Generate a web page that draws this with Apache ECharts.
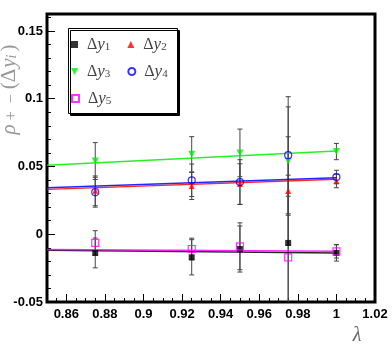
<!DOCTYPE html>
<html><head><meta charset="utf-8">
<script src="https://cdn.jsdelivr.net/npm/echarts@6/dist/echarts.min.js"></script>
<style>html,body{margin:0;padding:0;background:#fff}#c{width:392px;height:349px}</style>
</head><body><div id="c"></div>
<script>
var xs = [0.875, 0.925, 0.95, 0.975, 1.0];
var dy1 = [-0.0138, -0.017, -0.0109, -0.0064, -0.0138];
var err1 = [0.011, 0.013, 0.017, 0.05, 0.006];
var dy2 = [0.032, 0.0356, 0.037, 0.0319, 0.0393];
var err2 = [0.011, 0.010, 0.015, 0.04, 0.005];
var dy3 = [0.054, 0.059, 0.060, 0.054, 0.061];
var err3 = [0.0136, 0.013, 0.0176, 0.04, 0.006];
var dy4 = [0.031, 0.0398, 0.0385, 0.0583, 0.0422];
var err4 = [0.011, 0.012, 0.0165, 0.0432, 0.005];
var dy5 = [-0.0064, -0.0109, -0.0089, -0.017, -0.0126];
var err5 = [0.009, 0.008, 0.0173, 0.045, 0.005];
var fitX = [0.85, 1.0];
var fit1 = [-0.0119, -0.0138];
var fit2 = [0.0331, 0.0405];
var fit3 = [0.0509, 0.0615];
var fit4 = [0.0343, 0.0417];
var fit5 = [-0.0113, -0.0126];
var xTicks = [0.86, 0.88, 0.9, 0.92, 0.94, 0.96, 0.98, 1, 1.02];
var yTicks = [-0.05, 0, 0.05, 0.1, 0.15];
var names = ['Δy1', 'Δy2', 'Δy3', 'Δy4', 'Δy5'];
var colors = ['#000000', '#ff0000', '#00ee00', '#0000ff', '#ff00ff'];

var X_MIN = 0.85, X_MAX = 1.02, Y_MIN = -0.05, Y_MAX = 0.1625;
function range(a, b, step) {
  var out = [];
  for (var i = 0; ; i++) {
    var v = Math.round((a + i * step) * 10000) / 10000;
    if (v > b + 1e-9) break;
    out.push(v);
  }
  return out;
}
var xMinor = range(0.85, 1.02, 0.005);
var yMinor = range(-0.05, 0.16, 0.01);

var dys = [dy1, dy2, dy3, dy4, dy5];
var errs = [err1, err2, err3, err4, err5];
var fits = [fit1, fit2, fit3, fit4, fit5];
var symbols = ['rect', 'triangle', 'path://M0,0L10,0L5,10Z', 'circle', 'rect'];
var filled = [true, true, true, false, false];
var sizes = [6, 6, 7, 7, 7];

var labelFont = "'Liberation Sans',Arial,sans-serif";
var series = [];
for (var s = 0; s < 5; s++) {
  series.push({
    type: 'custom', xAxisIndex: 0, yAxisIndex: 0, clip: true, z: 2,
    data: xs.map(function (x, i) { return [x, dys[s][i] - errs[s][i], dys[s][i] + errs[s][i]]; }),
    renderItem: function (params, api) {
      var lo = api.coord([api.value(0), api.value(1)]);
      var hi = api.coord([api.value(0), api.value(2)]);
      var st = { stroke: '#444', lineWidth: 1 };
      return { type: 'group', children: [
        { type: 'line', shape: { x1: lo[0], y1: lo[1], x2: hi[0], y2: hi[1] }, style: st },
        { type: 'line', shape: { x1: lo[0] - 2.5, y1: lo[1], x2: lo[0] + 2.5, y2: lo[1] }, style: st },
        { type: 'line', shape: { x1: hi[0] - 2.5, y1: hi[1], x2: hi[0] + 2.5, y2: hi[1] }, style: st }
      ] };
    }
  });
}
for (var s = 0; s < 5; s++) {
  series.push({
    type: 'line', xAxisIndex: 0, yAxisIndex: 0, z: 3, symbol: 'none', silent: true,
    data: fitX.map(function (x, i) { return [x, fits[s][i]]; }),
    lineStyle: { color: colors[s], width: 1.5, opacity: 0.85 }
  });
}
for (var s = 0; s < 5; s++) {
  series.push({
    type: 'scatter', name: names[s], xAxisIndex: 0, yAxisIndex: 0, z: 4,
    symbol: symbols[s], symbolSize: sizes[s],
    itemStyle: filled[s] ? { color: colors[s] } : { color: 'rgba(255,255,255,0)', borderColor: colors[s], borderWidth: 1.2 },
    data: xs.map(function (x, i) { return [x, dys[s][i]]; })
  });
}

var legendText = {
  fontFamily: "'Liberation Serif',serif", fontSize: 16, color: '#444', padding: [0, 0, 0, 4],
  rich: {
    d: { fontFamily: "'Liberation Serif',serif", fontSize: 16, color: '#444' },
    y: { fontFamily: "'Liberation Serif',serif", fontStyle: 'italic', fontSize: 17, color: '#444' },
    s: { fontFamily: "'Liberation Serif',serif", fontSize: 11, color: '#444', verticalAlign: 'bottom', padding: [6, 0, 0, 0] }
  }
};
function legendFmt(n) { return '{d|Δ}{y|y}{s|' + n.slice(2) + '}'; }
function mkLegend(data, top) {
  return {
    data: data, left: 71, top: top, orient: 'horizontal', itemWidth: 7, itemHeight: 7, itemGap: 17,
    padding: 0, textStyle: legendText, formatter: legendFmt, selectedMode: false
  };
}
function axisCommon(extra) {
  var o = { type: 'value', axisLine: { show: false, onZero: false }, splitLine: { show: false } };
  for (var k in extra) o[k] = extra[k];
  return o;
}

var option = {
  animation: false,
  grid: { left: 47, right: 17, top: 14, bottom: 47, show: true, borderColor: '#000', borderWidth: 3, backgroundColor: 'transparent' },
  xAxis: [
    axisCommon({ min: X_MIN, max: X_MAX, position: 'bottom',
      axisTick: { inside: true, length: 8, lineStyle: { color: '#000', width: 1 }, customValues: xTicks },
      axisLabel: { customValues: xTicks, margin: 6, color: '#000', fontFamily: labelFont, fontWeight: 'bold', fontSize: 13,
        formatter: function (v) { return String(v); } } }),
    axisCommon({ min: X_MIN, max: X_MAX, position: 'bottom', axisLabel: { show: false },
      axisTick: { inside: true, length: 4, lineStyle: { color: '#000', width: 1 }, customValues: xMinor } })
  ],
  yAxis: [
    axisCommon({ min: Y_MIN, max: Y_MAX, position: 'left',
      axisTick: { inside: true, length: 8, lineStyle: { color: '#000', width: 1 }, customValues: yTicks },
      axisLabel: { customValues: yTicks, margin: 4, color: '#000', fontFamily: labelFont, fontWeight: 'bold', fontSize: 13,
        formatter: function (v) { return String(v); } } }),
    axisCommon({ min: Y_MIN, max: Y_MAX, position: 'left', axisLabel: { show: false },
      axisTick: { inside: true, length: 4, lineStyle: { color: '#000', width: 1 }, customValues: yMinor } })
  ],
  legend: [mkLegend([names[0], names[1]], 36), mkLegend([names[2], names[3]], 63), mkLegend([names[4]], 90)],
  graphic: [
    { type: 'rect', left: 68, top: 28, z: -1, shape: { width: 109, height: 85 },
      style: { fill: '#fff', stroke: '#000', lineWidth: 1, shadowColor: '#000', shadowOffsetX: 2, shadowOffsetY: 2, shadowBlur: 0 } },
    { type: 'text', x: 9, y: 89, rotation: Math.PI / 2, z: 10,
      style: { text: '{r|ρ}{s|+}{s|−}{n|(Δ}{y|y}{i|i}{n|)}', align: 'center', verticalAlign: 'middle',
        rich: {
          r: { fontFamily: "'Liberation Serif',serif", fontStyle: 'italic', fontSize: 21, fill: '#999' },
          s: { fontFamily: "'Liberation Serif',serif", fontSize: 16, fill: '#999', padding: [6, 4, 0, 4] },
          n: { fontFamily: "'Liberation Serif',serif", fontSize: 21, fill: '#999', padding: [0, 1, 0, 1] },
          y: { fontFamily: "'Liberation Serif',serif", fontStyle: 'italic', fontSize: 21, fill: '#999' },
          i: { fontFamily: "'Liberation Serif',serif", fontStyle: 'italic', fontSize: 14, fill: '#999', padding: [7, 2, 0, 0] }
        } } },
    { type: 'text', x: 357, y: 336, z: 10,
      style: { text: 'λ', align: 'center', verticalAlign: 'middle', fontFamily: "'Liberation Serif',serif", fontStyle: 'italic', fontSize: 20, fill: '#666' } }
  ],
  series: series
};
var chart = echarts.init(document.getElementById('c'), null, { renderer: 'canvas' });
chart.setOption(option);
</script></body></html>
